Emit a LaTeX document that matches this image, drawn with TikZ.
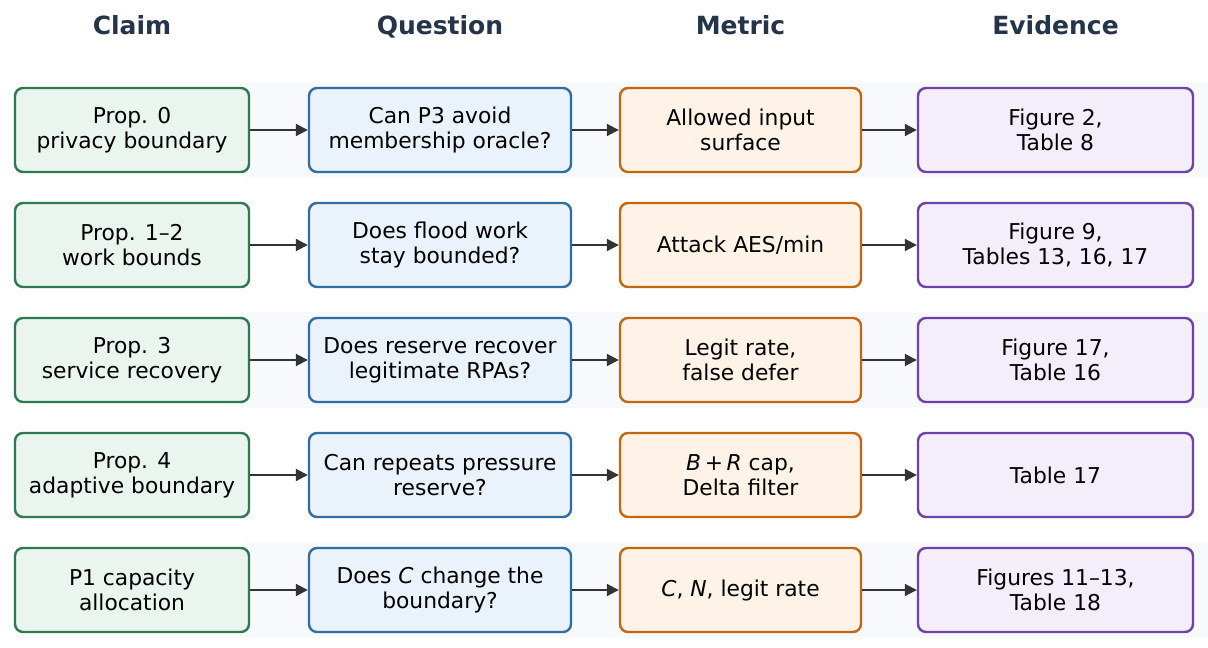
\documentclass[tikz,border=0pt]{standalone}
\usepackage{fontspec}
\setmainfont{DejaVu Sans}
\usetikzlibrary{arrows.meta}
\definecolor{hdr}{HTML}{243449}
\definecolor{band}{HTML}{F7F9FC}
\definecolor{cfill}{HTML}{EBF5EF}
\definecolor{cdraw}{HTML}{2D7A4F}
\definecolor{qfill}{HTML}{EAF2FB}
\definecolor{qdraw}{HTML}{2F6EA5}
\definecolor{mfill}{HTML}{FEF3E6}
\definecolor{mdraw}{HTML}{C2660F}
\definecolor{efill}{HTML}{F3EEF9}
\definecolor{edraw}{HTML}{6E42A8}
\definecolor{arr}{HTML}{333333}
\tikzset{
  basebox/.style={rounded corners=8pt, line width=2.4pt, align=center, minimum height=84pt, inner sep=2pt,
    font=\fontsize{21.8}{25}\selectfont, text=black},
  claimbox/.style={basebox, fill=cfill, draw=cdraw, minimum width=234pt},
  qbox/.style={basebox, fill=qfill, draw=qdraw, minimum width=262pt},
  mbox/.style={basebox, fill=mfill, draw=mdraw, minimum width=241pt},
  ebox/.style={basebox, fill=efill, draw=edraw, minimum width=275pt},
  header/.style={font=\fontsize{25}{30}\selectfont\bfseries, text=hdr, anchor=base},
  conn/.style={draw=arr, line width=2pt, -{Triangle[length=12pt,width=12pt]}},
  bandbox/.style={fill=band, draw=none}
}
\begin{document}
\begin{tikzpicture}[x=1pt,y=-1pt]
\useasboundingbox (0,0) rectangle (1208,648);
\fill[white] (0,0) rectangle (1208,648);
\foreach \yy in {130,360,590} {
  \path[bandbox] (246,\yy-48) rectangle (1208,\yy+48);
}
\node[header] (hc) at (132,34) {Claim};
\node[header] (hq) at (440,34) {Question};
\node[header] (hm) at (740.5,34) {Metric};
\node[header] (he) at (1055.5,34) {Evidence};

\node[claimbox] (c1) at (132,130) {Prop. 0\\privacy boundary};
\node[claimbox] (c2) at (132,245) {Prop. 1–2\\work bounds};
\node[claimbox] (c3) at (132,360) {Prop. 3\\service recovery};
\node[claimbox] (c4) at (132,475) {Prop. 4\\adaptive boundary};
\node[claimbox] (c5) at (132,590) {P1 capacity\\allocation};

\node[qbox] (q1) at (440,130) {Can P3 avoid\\membership oracle?};
\node[qbox] (q2) at (440,245) {Does flood work\\stay bounded?};
\node[qbox] (q3) at (440,360) {Does reserve recover\\legitimate RPAs?};
\node[qbox] (q4) at (440,475) {Can repeats pressure\\reserve?};
\node[qbox] (q5) at (440,590) {Does {\itshape C} change the\\boundary?};

\node[mbox] (m1) at (740.5,130) {Allowed input\\surface};
\node[mbox] (m2) at (740.5,245) {Attack AES/min};
\node[mbox] (m3) at (740.5,360) {Legit rate,\\false defer};
\node[mbox] (m4) at (740.5,475) {{\itshape B}\,+\,{\itshape R} cap,\\Delta filter};
\node[mbox] (m5) at (740.5,590) {{\itshape C}, {\itshape N}, legit rate};

\node[ebox] (e1) at (1055.5,130) {Figure 2,\\Table 8};
\node[ebox] (e2) at (1055.5,245) {Figure 9,\\Tables 13, 16, 17};
\node[ebox] (e3) at (1055.5,360) {Figure 17,\\Table 16};
\node[ebox] (e4) at (1055.5,475) {Table 17};
\node[ebox] (e5) at (1055.5,590) {Figures 11–13,\\Table 18};

\foreach \i in {1,...,5} {
  \draw[conn] (c\i.east) -- (q\i.west);
  \draw[conn] (q\i.east) -- (m\i.west);
  \draw[conn] (m\i.east) -- (e\i.west);
}
\end{tikzpicture}
\end{document}
